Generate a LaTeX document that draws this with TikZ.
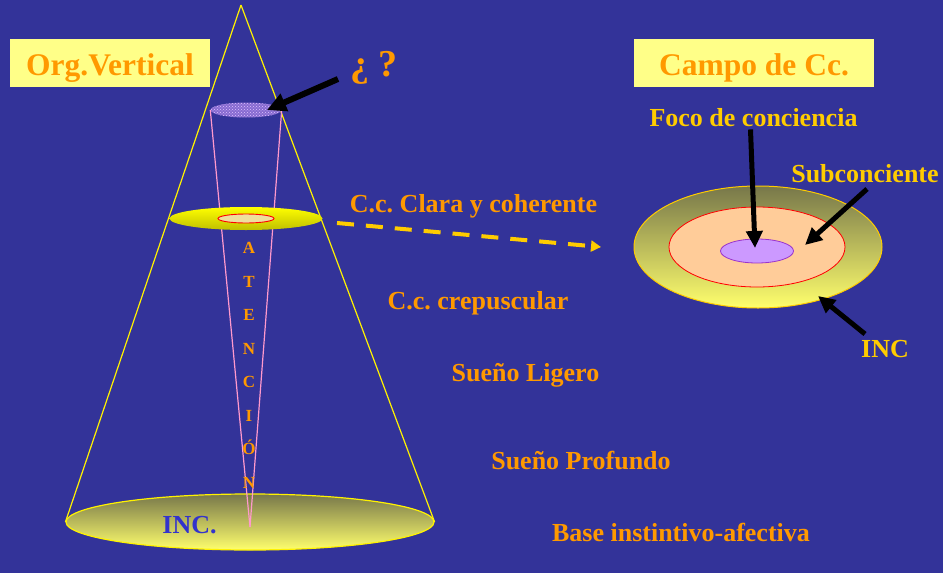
\documentclass[tikz,border=0pt]{standalone}
\usepackage{fontspec}
\setmainfont{Liberation Serif}
\usetikzlibrary{arrows.meta,shapes.geometric,patterns}
\definecolor{fondo}{HTML}{333399}
\definecolor{naranja}{HTML}{FF9900}
\definecolor{amarillo}{HTML}{FFCC00}
\definecolor{crema}{HTML}{FFFF88}
\definecolor{rosa}{HTML}{FF99CC}
\definecolor{lila}{HTML}{CC99FF}
\definecolor{morado}{HTML}{9933CC}
\definecolor{melocoton}{HTML}{FFCC99}
\definecolor{oliva}{HTML}{77774A}
\definecolor{azulinc}{HTML}{3333CC}
\frenchspacing

\begin{document}
\begin{tikzpicture}[x=1pt,y=-1pt,
    titulo/.style={fill=crema,minimum height=48pt,inner sep=0pt,text height=24pt,text depth=0pt,text=naranja,font=\fontsize{31.5}{34}\selectfont\bfseries},
    nivel/.style={text=naranja,inner sep=0pt,anchor=base,font=\fontsize{26}{30}\selectfont\bfseries},
    etiqueta/.style={text=amarillo,inner sep=0pt,anchor=base,font=\fontsize{26}{30}\selectfont\bfseries},
    letra/.style={text=naranja,inner sep=0pt,anchor=base,font=\fontsize{17}{19}\selectfont\bfseries},
    disco/.style={ellipse,inner sep=0pt,draw=yellow,line width=1.2pt},
    flecha/.style={-{Triangle[length=17pt,width=16pt]},line width=5pt,black}
  ]
    % Background
    \fill[fondo] (0,0) rectangle (943,573);
    \useasboundingbox (0,0) rectangle (943,573);

    % Cone: base disc and apex
    \node[disco,minimum width=368pt,minimum height=56pt,top color=oliva,bottom color=crema!80!yellow] (base) at (250,522) {};
    \coordinate (apex) at (241,5);
    \draw[yellow,line width=1.2pt] (apex) -- (base.west);
    \draw[yellow,line width=1.2pt] (apex) -- (base.east);

    % Top unknown level
    \node[ellipse,inner sep=0pt,minimum width=71pt,minimum height=15pt,fill=lila!55!fondo,postaction={pattern=crosshatch dots,pattern color=lila!60!white}] (top) at (246,110) {};

    % Attention beam
    \coordinate (tip) at (250,527);
    \draw[rosa,line width=1.2pt] (top.west) -- (tip);
    \draw[rosa,line width=1.2pt] (top.east) -- (tip);

    % Clear consciousness disc
    \node[ellipse,inner sep=0pt,minimum width=153pt,minimum height=23pt,top color=yellow,bottom color=yellow!75!black] (mid) at (246,218.5) {};
    \node[ellipse,draw=red,line width=0.9pt,inner sep=0pt,minimum width=56pt,minimum height=9pt,fill=lila!45!yellow!70!white] (midin) at (246,218.5) {};

    % ATENCION letters
    \foreach \l [count=\i from 0] in {A,T,E,N,C,I,Ó,N}
      \node[letra] (at\i) at (249,253.5+33.5*\i) {\l};

    \node[inner sep=0pt,anchor=base,text=azulinc,font=\fontsize{26}{30}\selectfont\bfseries] (inc) at (189.5,533) {INC.};

    % Titles
    \node[titulo,minimum width=200pt] (orgv) at (110,63) {Org.Vertical};
    \node[titulo,minimum width=240pt] (campo) at (754,63) {Campo de Cc.};

    % Question mark and arrow
    \node[inner sep=0pt,anchor=base,text=naranja,font=\fontsize{38}{40}\selectfont\bfseries] (preg) at (374,76) {¿ ?};
    \coordinate (qtail) at (338,79);
    \coordinate (qhead) at (267,110);
    \draw[flecha,line width=6pt,-{Triangle[length=19pt,width=18pt]}] (qtail) -- (qhead);

    % Levels
    \node[nivel] (clara) at (473.5,212) {C.c. Clara y coherente};
    \node[nivel] (crep) at (478,309) {C.c. crepuscular};
    \node[nivel] (ligero) at (525.5,381) {Sueño Ligero};
    \node[nivel] (profundo) at (581,469) {Sueño Profundo};
    \node[nivel] (instinto) at (681,541) {Base instintivo-afectiva};

    % Field of consciousness
    \node[disco,draw=amarillo,line width=1pt,minimum width=248pt,minimum height=122pt,top color=oliva,bottom color=crema!80!yellow] (campoext) at (758,247) {};
    \node[ellipse,draw=red,line width=0.8pt,fill=melocoton,inner sep=0pt,minimum width=176pt,minimum height=80pt] (subc) at (757,247) {};
    \node[ellipse,draw=morado,line width=0.8pt,fill=lila,inner sep=0pt,minimum width=73pt,minimum height=24pt] (foco) at (757,251) {};

    % Dashed link to the field
    \coordinate (dtail) at (337,223);
    \coordinate (dhead) at (601,247);
    \draw[amarillo,line width=4pt,dash pattern=on 17pt off 12pt,-{Triangle[length=10pt,width=11pt]}] (dtail) -- (dhead);

    % Labels of the field
    \node[etiqueta] (focotxt) at (753.5,126) {Foco de conciencia};
    \node[etiqueta] (subctxt) at (865,182) {Subconciente};
    \node[etiqueta] (inctxt) at (885,357) {INC};
    \coordinate (shead) at (805,245);
    \coordinate (stail) at (867,189);
    \coordinate (ihead) at (818,296);
    \coordinate (itail) at (865,334);
    \draw[flecha] (focotxt.south) ++(-3,3) -- (755,248);
    \draw[flecha] (stail) -- (shead);
    \draw[flecha] (itail) -- (ihead);
  \end{tikzpicture}
\end{document}
